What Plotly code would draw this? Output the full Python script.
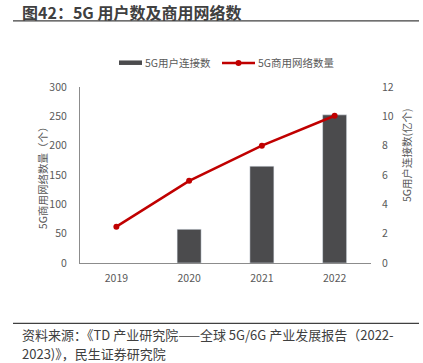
import plotly.graph_objects as go

years = ["2019", "2020", "2021", "2022"]
users_100m = [None, 2.3, 6.6, 10.1]          # 5G用户连接数(亿个)
networks = [62, 140, 200, 251]                # 5G商用网络数量(个)
left_ticks = [0, 50, 100, 150, 200, 250, 300]
right_ticks = [0, 2, 4, 6, 8, 10, 12]

bar_name = "5G用户连接数"
line_name = "5G商用网络数量"
title_text = "图42：5G 用户数及商用网络数"
left_title = "5G商用网络数量（个）"
right_title = "5G用户连接数(亿个)"
source_1 = "资料来源：《TD 产业研究院——全球 5G/6G 产业发展报告（2022-"
source_2 = "2023)》，民生证券研究院"

W, H = 423, 363
L, R, T, B = 80, 371, 87, 262.7
FONT = "Noto Sans CJK SC"
GREY = "#595959"
BAR = "#4B4B4D"
RED = "#C00000"


def px(x):
    return (x - L) / (R - L)


def py(y):
    return (B - y) / (B - T)


fig = go.Figure()
fig.add_trace(go.Bar(x=years, y=users_100m, name=bar_name, marker_color=BAR,
                     width=0.33, yaxis="y", showlegend=False))
fig.add_trace(go.Scatter(x=years, y=networks, name=line_name, mode="lines+markers",
                         line=dict(color=RED, width=2.5), marker=dict(color=RED, size=6),
                         yaxis="y2", showlegend=False))

shapes = [
    dict(type="line", xref="paper", yref="paper", x0=px(13), x1=px(419), y0=py(21), y1=py(21),
         line=dict(color="#404040", width=1.2)),
    dict(type="line", xref="paper", yref="paper", x0=px(13), x1=px(419), y0=py(323), y1=py(323),
         line=dict(color="#404040", width=1.2)),
    # legend swatches
    dict(type="rect", xref="paper", yref="paper", x0=px(119), x1=px(142), y0=py(65), y1=py(60.5),
         fillcolor=BAR, line=dict(width=0)),
    dict(type="line", xref="paper", yref="paper", x0=px(222), x1=px(255), y0=py(63), y1=py(63),
         line=dict(color=RED, width=2.5)),
    dict(type="circle", xref="paper", yref="paper", x0=px(235.5), x1=px(241.5), y0=py(66), y1=py(60),
         fillcolor=RED, line=dict(width=0)),
]

annotations = [
    dict(text=f"<b>{title_text}</b>", x=px(20), y=py(12), xanchor="left", yanchor="middle",
         font=dict(size=16, color="#404040", family=FONT)),
    dict(text=bar_name, x=px(143), y=py(63), xanchor="left", yanchor="middle",
         font=dict(size=10.5, color=GREY, family=FONT)),
    dict(text=line_name, x=px(256), y=py(63), xanchor="left", yanchor="middle",
         font=dict(size=10.5, color=GREY, family=FONT)),
    dict(text=left_title, x=px(42), y=py(175), textangle=-90, xanchor="center", yanchor="middle",
         font=dict(size=10.5, color=GREY, family=FONT)),
    dict(text=right_title, x=px(406), y=py(155), textangle=-90, xanchor="center", yanchor="middle",
         font=dict(size=10.5, color=GREY, family=FONT)),
    dict(text=source_1, x=px(20), y=py(334), xanchor="left", yanchor="middle",
         font=dict(size=13, color="#404040", family=FONT)),
    dict(text=source_2, x=px(20), y=py(353.5), xanchor="left", yanchor="middle",
         font=dict(size=13, color="#404040", family=FONT)),
]
for a in annotations:
    a.setdefault("xref", "paper")
    a.setdefault("yref", "paper")
    a["showarrow"] = False

fig.update_layout(
    width=W, height=H,
    margin=dict(l=L, r=W - R, t=T, b=H - B, pad=0),
    paper_bgcolor="white", plot_bgcolor="white",
    font=dict(family=FONT, size=10.5, color=GREY),
    showlegend=False,
    bargap=0.67,
    xaxis=dict(showgrid=False, showline=True, linecolor="#8c8c8c", linewidth=1.2,
               ticks="", tickfont=dict(size=10.5, color=GREY), ticklabelstandoff=5,
               fixedrange=True),
    yaxis=dict(side="right", range=[0, 12], tickvals=right_ticks, showgrid=False,
               showline=False, zeroline=False, tickfont=dict(size=10.5, color=GREY),
               ticklabelstandoff=10),
    yaxis2=dict(side="left", overlaying="y", range=[0, 300], tickvals=left_ticks,
                showgrid=False, showline=True, linecolor="#8c8c8c", linewidth=1.2,
                zeroline=False, tickfont=dict(size=10.5, color=GREY), ticklabelstandoff=10),
    shapes=shapes,
    annotations=annotations,
)

fig.write_html("out.html", config={"displayModeBar": False},
               post_script="document.body.style.margin='0';document.body.style.overflow='hidden';")
